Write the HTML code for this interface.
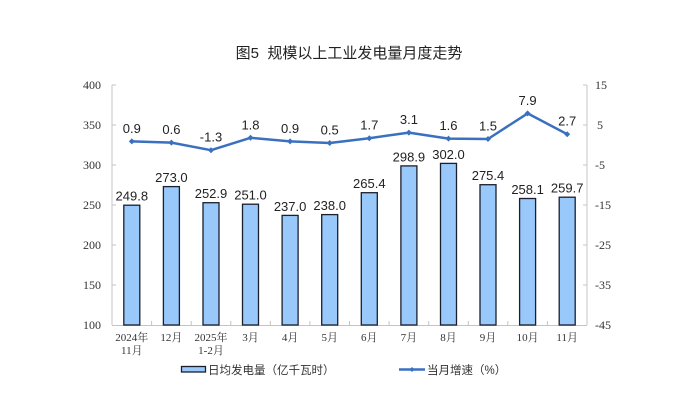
<!DOCTYPE html>
<html><head><meta charset="utf-8"><style>
html,body{margin:0;padding:0;background:#fff;}
svg{display:block;}
</style></head><body>
<svg width="700" height="417" viewBox="0 0 700 417" xmlns="http://www.w3.org/2000/svg">
<rect width="700" height="417" fill="#fff"/>
<text x="349" y="58" text-anchor="middle" font-family="'Liberation Sans','Noto Sans CJK SC',sans-serif" font-size="15" fill="#222">图5&#160;&#160;规模以上工业发电量月度走势</text>

<!-- axes -->
<g stroke="#c4c4c4" stroke-width="1" fill="none">
<line x1="112" y1="85" x2="112" y2="325"/>
<line x1="587" y1="85" x2="587" y2="325"/>
<line x1="112" y1="325.5" x2="587" y2="325.5"/>
<line x1="112" y1="85" x2="116" y2="85"/>
<line x1="112" y1="125" x2="116" y2="125"/>
<line x1="112" y1="165" x2="116" y2="165"/>
<line x1="112" y1="205" x2="116" y2="205"/>
<line x1="112" y1="245" x2="116" y2="245"/>
<line x1="112" y1="285" x2="116" y2="285"/>
<line x1="583" y1="85" x2="587" y2="85"/>
<line x1="583" y1="125" x2="587" y2="125"/>
<line x1="583" y1="165" x2="587" y2="165"/>
<line x1="583" y1="205" x2="587" y2="205"/>
<line x1="583" y1="245" x2="587" y2="245"/>
<line x1="583" y1="285" x2="587" y2="285"/>
<line x1="151.6" y1="321" x2="151.6" y2="325"/>
<line x1="191.2" y1="321" x2="191.2" y2="325"/>
<line x1="230.8" y1="321" x2="230.8" y2="325"/>
<line x1="270.3" y1="321" x2="270.3" y2="325"/>
<line x1="309.9" y1="321" x2="309.9" y2="325"/>
<line x1="349.5" y1="321" x2="349.5" y2="325"/>
<line x1="389.1" y1="321" x2="389.1" y2="325"/>
<line x1="428.7" y1="321" x2="428.7" y2="325"/>
<line x1="468.3" y1="321" x2="468.3" y2="325"/>
<line x1="507.8" y1="321" x2="507.8" y2="325"/>
<line x1="547.4" y1="321" x2="547.4" y2="325"/>
</g>

<!-- left axis labels -->
<g font-family="'Liberation Serif',serif" font-size="12" fill="#333" text-anchor="end">
<text x="101" y="89">400</text>
<text x="101" y="129">350</text>
<text x="101" y="169">300</text>
<text x="101" y="209">250</text>
<text x="101" y="249">200</text>
<text x="101" y="289">150</text>
<text x="101" y="329">100</text>
</g>
<!-- right axis labels -->
<g font-family="'Liberation Serif',serif" font-size="12" fill="#333" text-anchor="start">
<text x="595" y="89">15</text>
<text x="597" y="129">5</text>
<text x="595" y="169">-5</text>
<text x="595" y="209">-15</text>
<text x="595" y="249">-25</text>
<text x="595" y="289">-35</text>
<text x="595" y="329">-45</text>
</g>

<!-- bars -->
<g fill="#99c9fb" stroke="#1a1f2e" stroke-width="1.3">
<rect x="123.8" y="205.2" width="16" height="119.8"/>
<rect x="163.4" y="186.6" width="16" height="138.4"/>
<rect x="203.0" y="202.7" width="16" height="122.3"/>
<rect x="242.5" y="204.2" width="16" height="120.8"/>
<rect x="282.1" y="215.4" width="16" height="109.6"/>
<rect x="321.7" y="214.6" width="16" height="110.4"/>
<rect x="361.3" y="192.7" width="16" height="132.3"/>
<rect x="400.9" y="165.9" width="16" height="159.1"/>
<rect x="440.5" y="163.4" width="16" height="161.6"/>
<rect x="480.0" y="184.7" width="16" height="140.3"/>
<rect x="519.6" y="198.5" width="16" height="126.5"/>
<rect x="559.2" y="197.2" width="16" height="127.8"/>
</g>

<!-- bar labels -->
<g font-family="'Liberation Sans',sans-serif" font-size="13" fill="#222" text-anchor="middle">
<text x="131.8" y="200.7">249.8</text>
<text x="171.4" y="182.1">273.0</text>
<text x="211.0" y="198.2">252.9</text>
<text x="250.5" y="199.7">251.0</text>
<text x="290.1" y="210.9">237.0</text>
<text x="329.7" y="210.1">238.0</text>
<text x="369.3" y="188.2">265.4</text>
<text x="408.9" y="161.4">298.9</text>
<text x="448.5" y="158.9">302.0</text>
<text x="488.0" y="180.2">275.4</text>
<text x="527.6" y="194.0">258.1</text>
<text x="567.2" y="192.7">259.7</text>
</g>

<!-- line -->
<polyline fill="none" stroke="#3a70c0" stroke-width="2.5" stroke-linejoin="round" points="131.8,141.4 171.4,142.6 211.0,150.2 250.5,137.8 290.1,141.4 329.7,143 369.3,138.2 408.9,132.6 448.5,138.6 488.0,139 527.6,113.4 567.2,134.2"/>
<g fill="#3a70c0">
<path d="M131.8,138.4l3,3l-3,3l-3,-3z"/>
<path d="M171.4,139.6l3,3l-3,3l-3,-3z"/>
<path d="M211.0,147.2l3,3l-3,3l-3,-3z"/>
<path d="M250.5,134.8l3,3l-3,3l-3,-3z"/>
<path d="M290.1,138.4l3,3l-3,3l-3,-3z"/>
<path d="M329.7,140l3,3l-3,3l-3,-3z"/>
<path d="M369.3,135.2l3,3l-3,3l-3,-3z"/>
<path d="M408.9,129.6l3,3l-3,3l-3,-3z"/>
<path d="M448.5,135.6l3,3l-3,3l-3,-3z"/>
<path d="M488.0,136l3,3l-3,3l-3,-3z"/>
<path d="M527.6,110.4l3,3l-3,3l-3,-3z"/>
<path d="M567.2,131.2l3,3l-3,3l-3,-3z"/>
</g>
<g font-family="'Liberation Sans',sans-serif" font-size="13" fill="#222" text-anchor="middle">
<text x="131.8" y="132.9">0.9</text>
<text x="171.4" y="134.1">0.6</text>
<text x="211.0" y="141.7">-1.3</text>
<text x="250.5" y="129.3">1.8</text>
<text x="290.1" y="132.9">0.9</text>
<text x="329.7" y="134.5">0.5</text>
<text x="369.3" y="129.7">1.7</text>
<text x="408.9" y="124.1">3.1</text>
<text x="448.5" y="130.1">1.6</text>
<text x="488.0" y="130.5">1.5</text>
<text x="527.6" y="104.9">7.9</text>
<text x="567.2" y="125.7">2.7</text>
</g>

<!-- category labels -->
<g font-family="'Liberation Serif','Noto Serif CJK SC',serif" font-size="11" fill="#333" text-anchor="middle">
<text x="131.8" y="341">2024年</text>
<text x="131.8" y="354">11月</text>
<text x="171.4" y="341">12月</text>
<text x="211.0" y="341">2025年</text>
<text x="211.0" y="354">1-2月</text>
<text x="250.5" y="341">3月</text>
<text x="290.1" y="341">4月</text>
<text x="329.7" y="341">5月</text>
<text x="369.3" y="341">6月</text>
<text x="408.9" y="341">7月</text>
<text x="448.5" y="341">8月</text>
<text x="488.0" y="341">9月</text>
<text x="527.6" y="341">10月</text>
<text x="567.2" y="341">11月</text>
</g>

<!-- legend -->
<rect x="181.5" y="366.5" width="24" height="5.5" fill="#99c9fb" stroke="#1a1f2e" stroke-width="1.3"/>
<text x="208" y="374" font-family="'Liberation Sans','Noto Sans CJK SC',sans-serif" font-size="11.5" fill="#333">日均发电量（亿千瓦时）</text>
<line x1="399" y1="369.5" x2="425" y2="369.5" stroke="#3a70c0" stroke-width="2.5"/>
<path d="M412,367l2.5,2.5l-2.5,2.5l-2.5,-2.5z" fill="#3a70c0"/>
<text x="427" y="374" font-family="'Liberation Sans','Noto Sans CJK SC',sans-serif" font-size="11.5" fill="#333">当月增速（%）</text>
</svg>
</body></html>
